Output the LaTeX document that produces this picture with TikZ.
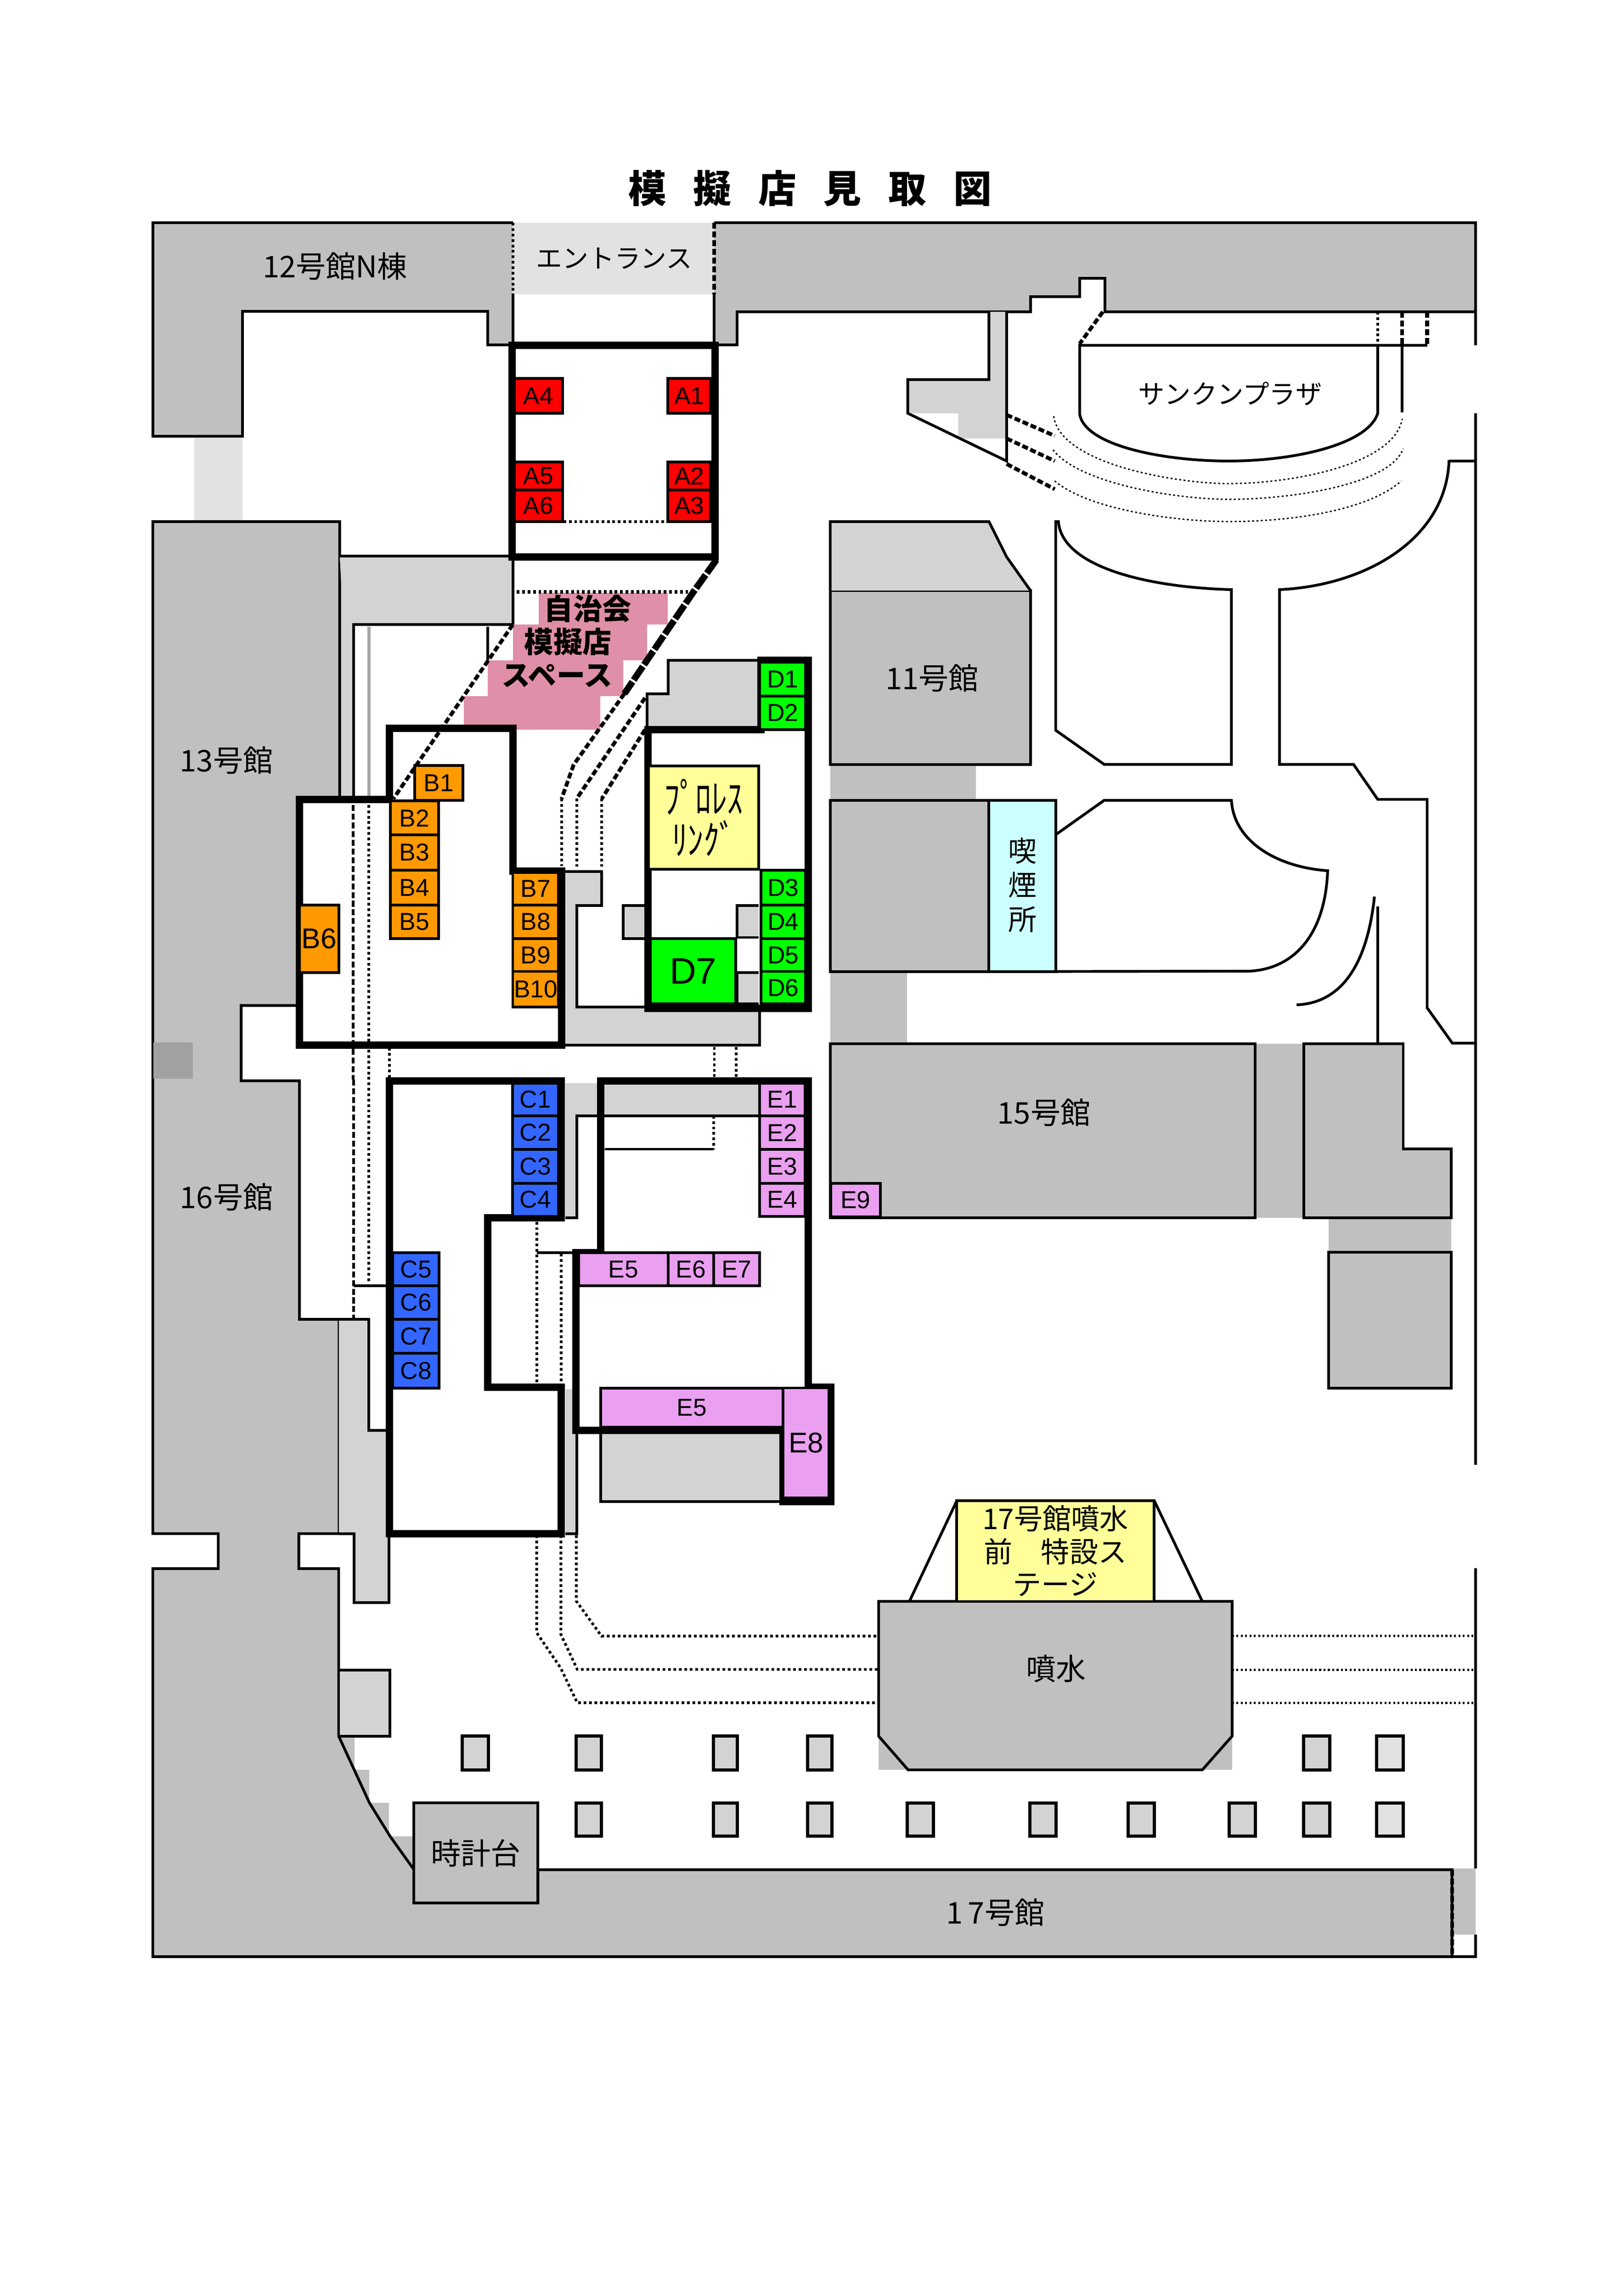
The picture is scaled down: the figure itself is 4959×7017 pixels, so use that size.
\documentclass[tikz,border=0pt]{standalone}
\usepackage{xcolor}
\usepackage{graphicx}
\usepackage{fontspec}
\usepackage{tikz}
\usetikzlibrary{positioning}
\setmainfont{Noto Sans CJK JP}
\newfontfamily\stallfont{Liberation Sans}
\def\u{0.12045pt} % one pixel of the sheet
\definecolor{bldggray}{HTML}{C0C0C0}
\definecolor{hatchgray}{HTML}{D3D3D3}
\definecolor{palegray}{HTML}{E2E2E2}
\definecolor{stallred}{HTML}{FF0000}
\definecolor{stallorange}{HTML}{FF9900}
\definecolor{stallgreen}{HTML}{00FF00}
\definecolor{stallblue}{HTML}{3366FF}
\definecolor{stallpink}{HTML}{EA9FF0}
\definecolor{jichipink}{HTML}{E08FA8}
\definecolor{ringyellow}{HTML}{FFFF99}
\definecolor{smokecyan}{HTML}{CCFFFF}
\tikzset{
  wall/.style={draw=black, line width=1pt},
  bldg/.style={wall, fill=bldggray},
  hatch/.style={fill=hatchgray},
  thickbox/.style={draw=black, line width=2.7pt, line join=miter},
  walkdot/.style={draw=black, line width=1pt, dash pattern=on 1pt off 1pt},
  walkdash/.style={draw=black, line width=1.4pt, dash pattern=on 2.2pt off 1pt},
  stepdot/.style={draw=black, line width=.5pt, dash pattern=on .7pt off .9pt},
  stall/.style={draw=black, line width=1pt, inner sep=0pt, outer sep=0pt, font=\stallfont\fontsize{9}{9}\selectfont},
  pillar/.style={wall, fill=hatchgray, line width=1.2pt},
  blabel/.style={inner sep=0pt, font=\fontsize{11}{11}\selectfont},
}
\begin{document}
\begin{tikzpicture}[x=0.0042333cm, y=-0.0042333cm]
    \useasboundingbox (0,0) rectangle (4959,7017);

    % title
    \node[inner sep=0pt, font=\bfseries\fontsize{14}{14}\selectfont] (title) at (2475,576)
        {模\hspace{9.9pt}擬\hspace{9.9pt}店\hspace{9.9pt}見\hspace{9.9pt}取\hspace{9.9pt}図};

    % soft fills first
    \fill[palegray] (1567,681) rectangle (2182,899);
    \fill[palegray] (594,1335) rectangle (741,1594);
    \fill[hatch] (1038,1699) -- (1567,1699) -- (1567,1909) -- (1080,1909) -- (1080,2440) -- (1038,2440) -- cycle;
    \fill[bldggray] (2537,2339) rectangle (2982,2446);
    \fill[bldggray] (2537,2969) rectangle (2772,3188);
    \fill[bldggray] (3836,3190) rectangle (3984,3722);
    \fill[bldggray] (4060,3722) rectangle (4435,3827);
    \fill[bldggray] (4439,5711) rectangle (4509,5912);
    \fill[bldggray] (2685,5306) rectangle (3765,5409);
    \fill[bldggray] (1035,5306) rectangle (1084,5408);
    \fill[bldggray] (1035,5408) rectangle (1129,5510);
    \fill[bldggray] (1035,5510) rectangle (1188,5612);
    \fill[bldggray] (1035,5612) rectangle (1265,5714);

    % buildings
    \draw[bldg] (1567,899) -- (1567,1054) -- (1491,1054) -- (1491,952) -- (741,952) -- (741,1333)
        -- (467,1333) -- (467,681) -- (1567,681);
    \draw[bldg] (2182,681) -- (4509,681) -- (4509,953) -- (3377,953) -- (3377,850) -- (3299,850)
        -- (3299,906) -- (3149,906) -- (3149,953) -- (2252,953) -- (2252,1054) -- (2182,1054) -- (2182,899);
    \draw[bldg] (467,1594) -- (1038,1594) -- (1038,3073) -- (737,3073) -- (737,3303) -- (915,3303)
        -- (915,4032) -- (1036,4032) -- (1036,4687) -- (913,4687) -- (913,4794) -- (1035,4794)
        -- (1035,5306) -- (1082,5408) -- (1129,5510) -- (1192,5612) -- (1265,5714) -- (1265,5816)
        -- (1644,5816) -- (1644,5714) -- (4437,5714) -- (4437,5980) -- (467,5980) -- (467,4794)
        -- (667,4794) -- (667,4687) -- (467,4687) -- cycle;
    \fill[black!37] (469,3185) rectangle (590,3297);
    \draw[bldg] (2537,1805) rectangle (3149,2336);
    \draw[bldg] (2537,2446) rectangle (3022,2969);
    \draw[bldg] (2537,3190) rectangle (3836,3722);
    \draw[bldg] (3984,3190) -- (4288,3190) -- (4288,3511) -- (4435,3511) -- (4435,3722) -- (3984,3722) -- cycle;
    \draw[bldg] (4060,3827) rectangle (4435,4242);
    \draw[bldg] (2685,4894) -- (3765,4894) -- (3765,5306) -- (3674,5409) -- (2775,5409) -- (2685,5306) -- cycle;
    \draw[wall, fill=smokecyan] (3022,2446) rectangle (3226,2969);

    % covered walks
    \draw[wall, hatch] (1080,2440) -- (1080,1909) -- (1567,1909) -- (1567,1699) -- (1038,1699);
    \draw[wall] (1491,1915) -- (1491,2018);
    \draw[line width=1.2pt, black!35] (1127,1915) -- (1127,2437);
    \fill[hatch] (2537,1594) -- (3022,1594) -- (3076,1702) -- (3149,1805) -- (2537,1805) -- cycle;
    \draw[wall] (2537,1805) -- (2537,1594) -- (3022,1594) -- (3076,1702) -- (3149,1805);
    \fill[hatch] (2774,1160) -- (3022,1160) -- (3022,953) -- (3076,953) -- (3076,1340) -- (2928,1340)
        -- (2928,1263) -- (2774,1263) -- cycle;
    \draw[wall] (3022,953) -- (3022,1160) -- (2774,1160) -- (2774,1263) -- (3076,1409) -- (3076,953);
    \fill[hatch] (1978,2120) -- (2042,2120) -- (2042,2018) -- (2326,2018) -- (2326,2230) -- (1978,2230) -- cycle;
    \draw[wall] (1978,2230) -- (1978,2120) -- (2042,2120) -- (2042,2018) -- (2326,2018);
    \fill[hatch] (1728,2664) -- (1839,2664) -- (1839,2767) -- (1762,2767) -- (1762,3078) -- (2321,3078)
        -- (2321,3194) -- (1728,3194) -- cycle;
    \draw[wall] (1728,2664) -- (1839,2664) -- (1839,2767) -- (1762,2767) -- (1762,3078) -- (1980,3078);
    \draw[wall] (2321,3082) -- (2321,3194) -- (1728,3194);
    \draw[wall, hatch] (1971,2767) -- (1904,2767) -- (1904,2869) -- (1971,2869);
    \draw[wall, hatch] (2318,2767) -- (2252,2767) -- (2252,2865) -- (2318,2865);
    \draw[wall, hatch] (2318,2972) -- (2252,2972) -- (2252,3068) -- (2318,3068);
    \fill[hatch] (1727,3310) -- (2321,3310) -- (2321,3410) -- (1763,3410) -- (1763,3722) -- (1727,3722) -- cycle;
    \draw[wall] (2321,3410) -- (1763,3410) -- (1763,3722) -- (1727,3722);
    \fill[hatch] (1727,4245) rectangle (1763,4687);
    \draw[wall] (1763,4371) -- (1763,4687) -- (1727,4687);
    \draw[wall, hatch] (1836,4382) -- (1836,4589) -- (2387,4589) -- (2387,4382);
    \draw[wall, hatch] (1036,4032) -- (1127,4032) -- (1127,4371) -- (1189,4371) -- (1189,4898) -- (1082,4898) -- (1082,4687) -- (1036,4687);
    \draw[wall, hatch] (1035,5104) rectangle (1192,5306);

    % stall area floors are clear of the buildings
    \fill[white] (1190,2226) -- (1567,2226) -- (1567,2662) -- (1716,2662) -- (1716,3194) -- (915,3194)
        -- (915,2444) -- (1190,2444) -- cycle;

    % open ground, plain outlines
    \draw[wall] (3226,1590) -- (3226,2232) -- (3374,2336) -- (3763,2336) -- (3763,1802)
        .. controls (3500,1795) and (3240,1730) .. (3234,1590);
    \draw[wall] (4428,1406) .. controls (4420,1650) and (4170,1790) .. (3910,1802) -- (3910,2336) -- (4136,2336)
        -- (4210,2443) -- (4361,2443) -- (4361,3080) -- (4438,3188) -- (4509,3188);
    \draw[wall] (4428,1409) -- (4509,1409);
    \draw[wall] (3226,2551) -- (3374,2446) -- (3763,2446) .. controls (3770,2570) and (3900,2650) .. (4057,2661)
        .. controls (4050,2850) and (3960,2960) .. (3819,2968) -- (3226,2969);
    \draw[wall] (4200,2740) .. controls (4180,2930) and (4110,3065) .. (3962,3071);
    \draw[wall] (4210,2770) -- (4210,3188);
    \draw[wall] (3299,1263) -- (3299,1056) -- (4361,1056);
    \draw[wall] (4210,1056) -- (4210,1263) .. controls (4180,1360) and (3950,1409) .. (3755,1409)
        .. controls (3550,1409) and (3310,1360) .. (3299,1263);
    \draw[wall] (4285,1056) -- (4285,1260);
    \draw[walkdot] (4210,953) -- (4210,1056);
    \draw[walkdash] (4285,953) -- (4285,1056);
    \draw[walkdash] (4361,953) -- (4361,1056);
    \draw[walkdash] (3370,953) -- (3299,1051);
    \draw[wall] (4509,953) -- (4509,1056);
    \draw[wall] (4509,1263) -- (4509,4477);
    \draw[wall] (4509,4793) -- (4509,5711);
    \draw[wall] (4509,5912) -- (4509,5980) -- (4437,5980);
    \draw[wall] (1848,3512) -- (2181,3512);
    \draw[wall] (1640,3829) -- (1751,3829);
    \draw[wall] (1081,3929) -- (1190,3929);
    \draw[wall] (2779,4894) -- (2924,4586);
    \draw[wall] (3674,4894) -- (3527,4586);

    % walkway markings
    \draw[walkdot] (1567,681) -- (1567,899);
    \draw[walkdash] (2182,681) -- (2182,899);
    \draw[walkdash] (4437,5714) -- (4437,5980);
    \draw[stepdot] (3220,1272) .. controls (3240,1420) and (3600,1478) .. (3755,1478)
        .. controls (3950,1478) and (4260,1420) .. (4285,1280);
    \draw[stepdot] (3218,1375) .. controls (3300,1480) and (3600,1526) .. (3755,1526)
        .. controls (3950,1526) and (4250,1480) .. (4288,1371);
    \draw[stepdot] (3223,1470) .. controls (3330,1560) and (3600,1594) .. (3755,1594)
        .. controls (3950,1594) and (4180,1560) .. (4282,1470);
    \draw[walkdash] (3076,1268) -- (3223,1332);
    \draw[walkdash] (3076,1340) -- (3223,1409);
    \draw[walkdash] (3076,1418) -- (3223,1495);
    \draw[walkdot] (1640,4692) -- (1640,4990) -- (1713,5097) -- (1764,5204) -- (2685,5204);
    \draw[walkdot] (1714,4692) -- (1714,4995) -- (1764,5102) -- (2685,5102);
    \draw[walkdot] (1761,4692) -- (1761,4893) -- (1838,5000) -- (2685,5000);
    \draw[stepdot, line width=.8pt] (3765,5000) -- (4502,5000);
    \draw[stepdot, line width=.8pt] (3765,5103) -- (4502,5103);
    \draw[stepdot, line width=.8pt] (3765,5204) -- (4502,5204);

    % pillars
    \foreach \xa/\xb in {1412/1493,1760/1838,2180/2253,2468/2542,3984/4064}
        \draw[pillar] (\xa,5306) rectangle (\xb,5409);
    \foreach \xa/\xb in {1760/1838,2180/2253,2468/2542,2772/2852,3147/3227,3447/3527,3756/3836,3984/4064}
        \draw[pillar] (\xa,5510) rectangle (\xb,5612);
    \draw[pillar, fill=palegray] (4207,5306) rectangle (4288,5409);
    \draw[pillar, fill=palegray] (4207,5510) rectangle (4288,5612);

    % student council space
    \fill[jichipink] (1646,1812) rectangle (2041,1909);
    \fill[jichipink] (1567,1909) rectangle (1978,2018);
    \fill[jichipink] (1491,2018) rectangle (1904,2127);
    \fill[jichipink] (1417,2127) rectangle (1834,2230);
    \draw[walkdot, line width=1.2pt] (1579,1809) -- (2119,1809);
    \draw[walkdash] (1567,1909) -- (1202,2441);
    \draw[draw=black, line width=2.4pt, dash pattern=on 6pt off .8pt] (2189,1711) -- (2119,1809) -- (1908,2120);
    \draw[walkdash] (1908,2120) -- (1753,2337) -- (1716,2441);
    \draw[walkdash] (1971,2133) -- (1762,2441);
    \draw[walkdash] (1971,2230) -- (1839,2441);
    \draw[walkdot] (1716,2441) -- (1716,2647);
    \draw[walkdot] (1762,2441) -- (1762,2655);
    \draw[walkdot] (1839,2441) -- (1839,2655);

    % paths through the stall areas
    \draw[walkdash, line width=1pt] (1079,2460) -- (1079,3300);
    \draw[walkdot] (1127,2460) -- (1127,3923);
    \draw[walkdash, line width=1pt] (1081,3300) -- (1081,4032);
    \draw[walkdot] (1190,3202) -- (1190,3300);
    \draw[walkdot] (2183,3200) -- (2183,3292);
    \draw[walkdot] (2249,3200) -- (2249,3292);
    \draw[walkdot] (2181,3410) -- (2181,3512);
    \draw[walkdot] (1640,3734) -- (1640,4227);
    \draw[walkdot] (1715,3831) -- (1715,4228);
    \draw[walkdot] (1572,1594) -- (2171,1594);

    % stall areas
    \draw[thickbox] (1565,1055) rectangle (2185,1703);
    \draw[thickbox] (1190,2226) -- (1567,2226) -- (1567,2662) -- (1716,2662) -- (1716,3194) -- (915,3194)
        -- (915,2444) -- (1190,2444) -- cycle;
    \draw[thickbox] (1190,3303) -- (1715,3303) -- (1715,3722) -- (1491,3722) -- (1491,4239) -- (1715,4239)
        -- (1715,4687) -- (1190,4687) -- cycle;
    \draw[thickbox] (1980,2230) -- (2326,2230) -- (2326,2018) -- (2470,2018) -- (2470,3082) -- (1980,3082) -- cycle;
    \draw[thickbox] (1836,3303) -- (2470,3303) -- (2470,4239) -- (2539,4239) -- (2539,4589) -- (2393,4589)
        -- (2393,4371) -- (1760,4371) -- (1760,3829) -- (1836,3829) -- cycle;

    % stalls, name/left/top/right/bottom
    \foreach \id/\xa/\ya/\xb/\yb in {A4/1572/1157/1719/1263,A5/1572/1412/1719/1497,A6/1572/1497/1719/1594,
        A1/2041/1157/2171/1263,A2/2041/1412/2171/1497,A3/2041/1497/2171/1594}
        \node[stall, fill=stallred, minimum width={(\xb-\xa)*\u}, minimum height={(\yb-\ya)*\u}] (\id) at ({(\xa+\xb)/2},{(\ya+\yb)/2}) {\id};
    \foreach \id/\xa/\ya/\xb/\yb in {B1/1267/2339/1414/2446,B2/1193/2448/1340/2552,B3/1193/2552/1340/2659,
        B4/1193/2659/1340/2766,B5/1193/2766/1340/2869,B7/1567/2666/1707/2766,B8/1567/2766/1707/2869,
        B9/1567/2869/1707/2969,B10/1567/2969/1707/3078}
        \node[stall, fill=stallorange, minimum width={(\xb-\xa)*\u}, minimum height={(\yb-\ya)*\u}] (\id) at ({(\xa+\xb)/2},{(\ya+\yb)/2}) {\id};
    \node[stall, fill=stallorange, minimum width=120*\u, minimum height=206*\u, font=\stallfont\fontsize{10.5}{10.5}\selectfont] (B6) at (975,2869) {B6};
    \foreach \id/\xa/\ya/\xb/\yb in {D1/2322/2024/2462/2127,D2/2322/2127/2462/2230,D3/2325/2659/2462/2766,
        D4/2325/2766/2462/2869,D5/2325/2869/2462/2969,D6/2325/2969/2462/3068}
        \node[stall, fill=stallgreen, minimum width={(\xb-\xa)*\u}, minimum height={(\yb-\ya)*\u}] (\id) at ({(\xa+\xb)/2},{(\ya+\yb)/2}) {\id};
    \node[stall, fill=stallgreen, minimum width=261*\u, minimum height=199*\u, font=\stallfont\fontsize{13.5}{13.5}\selectfont] (D7) at (2118,2968) {D7};
    \foreach \id/\xa/\ya/\xb/\yb in {C1/1566/3311/1706/3410,C2/1566/3410/1706/3513,C3/1566/3513/1706/3616,
        C4/1566/3616/1706/3717,C5/1200/3829/1342/3929,C6/1200/3929/1342/4032,C7/1200/4032/1342/4136,C8/1200/4136/1342/4242}
        \node[stall, fill=stallblue, minimum width={(\xb-\xa)*\u}, minimum height={(\yb-\ya)*\u}] (\id) at ({(\xa+\xb)/2},{(\ya+\yb)/2}) {\id};
    \foreach \id/\xa/\ya/\xb/\yb in {E1/2321/3311/2460/3410,E2/2321/3410/2460/3513,E3/2321/3513/2460/3616,
        E4/2321/3616/2460/3717,E9/2539/3616/2690/3719,E6/2042/3829/2181/3929,E7/2181/3829/2321/3929}
        \node[stall, fill=stallpink, minimum width={(\xb-\xa)*\u}, minimum height={(\yb-\ya)*\u}] (\id) at ({(\xa+\xb)/2},{(\ya+\yb)/2}) {\id};
    \node[stall, fill=stallpink, minimum width=273*\u, minimum height=100*\u] (E5top) at (1905,3879) {E5};
    \node[stall, fill=stallpink, minimum width=557*\u, minimum height=120*\u] (E5low) at (2114,4302) {E5};
    \node[stall, fill=stallpink, minimum width=140*\u, minimum height=336*\u, font=\stallfont\fontsize{10.5}{10.5}\selectfont] (E8) at (2463,4410) {E8};

    % stages and the clock tower
    \node[draw=black, line width=1pt, fill=ringyellow, minimum width=337*\u, minimum height=316*\u, inner sep=0pt,
        align=center, font=\fontsize{11}{13}\selectfont] (ring) at (2150,2499)
        {\scalebox{1.05}[1.35]{ﾌﾟﾛﾚｽ}\\[1pt]\scalebox{1.05}[1.35]{ﾘﾝｸﾞ}};
    \node[draw=black, line width=1pt, fill=ringyellow, minimum width=603*\u, minimum height=308*\u, inner sep=0pt,
        align=center, font=\fontsize{10.5}{12.1}\selectfont] (stage) at (3225,4740) {17号館噴水\\前　特設ス\\テージ};
    \node[bldg, minimum width=379*\u, minimum height=306*\u, inner sep=0pt, blabel] (clock) at (1454,5663) {時計台};

    % labels
    \node[blabel] (n12) at (1024,814) {12号館N棟};
    \node[blabel, font=\fontsize{9.6}{9.6}\selectfont] (entrance) at (1877,790) {エントランス};
    \node[blabel, font=\fontsize{9.7}{9.7}\selectfont] (plaza) at (3759,1203) {サンクンプラザ};
    \node[blabel] (n11) at (2848,2072) {11号館};
    \node[blabel] (n13) at (692,2323) {13号館};
    \node[blabel] (n16) at (692,3658) {16号館};
    \node[blabel] (n15) at (3190,3400) {15号館};
    \node[blabel] (n17) at (3042,5845) {1\,7号館};
    \node[blabel] (fountain) at (3227,5099) {噴水};
    \node[blabel, font=\bfseries\fontsize{10.7}{10.7}\selectfont] (jichi) at (1796,1860) {自治会};
    \node[blabel, font=\bfseries\fontsize{10.7}{10.7}\selectfont] (mogi) at (1736,1961) {模擬店};
    \node[blabel, font=\bfseries\fontsize{10.5}{10.5}\selectfont] (space) at (1702,2066) {スペース};
    \node[blabel, font=\fontsize{10.5}{12.5}\selectfont, align=center] (smoke) at (3125,2705) {喫\\煙\\所};
\end{tikzpicture}
\end{document}
